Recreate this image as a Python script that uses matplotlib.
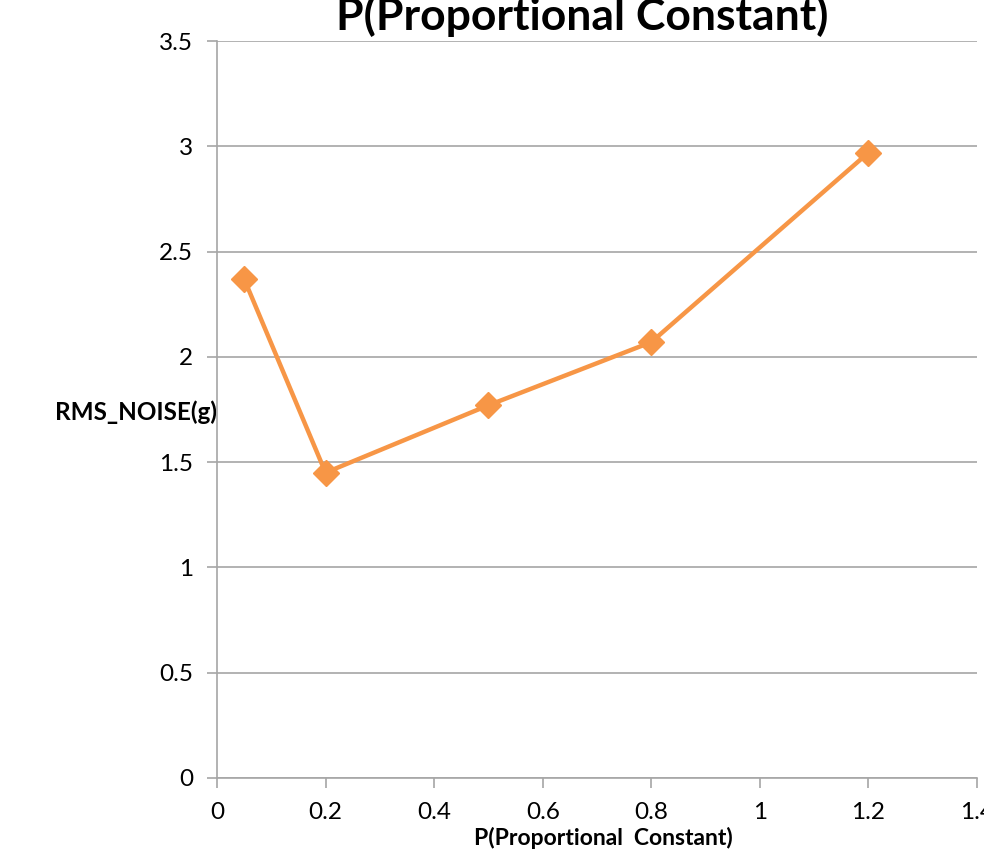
import matplotlib
matplotlib.use("Agg")
import matplotlib.pyplot as plt

# data
p_const = [0.05, 0.2, 0.5, 0.8, 1.2]
rms_noise = [2.37, 1.45, 1.77, 2.07, 2.97]

x_ticks = [0, 0.2, 0.4, 0.6, 0.8, 1, 1.2, 1.4]
x_labels = ["0", "0.2", "0.4", "0.6", "0.8", "1", "1.2", "1.4"]
y_ticks = [0, 0.5, 1, 1.5, 2, 2.5, 3, 3.5]
y_labels = ["0", "0.5", "1", "1.5", "2", "2.5", "3", "3.5"]

plt.rcParams["font.family"] = ["Lato", "DejaVu Sans"]

fig = plt.figure(figsize=(9.84, 8.51), dpi=100)
ax = fig.add_axes([0.2205, 0.0858, 0.7724, 0.866])

grid_col = "#A6A6A6"
line_col = "#F79646"

ax.plot(p_const, rms_noise, color=line_col, lw=3.2, marker="D",
        markersize=13, markeredgecolor=line_col, markerfacecolor=line_col,
        zorder=3, clip_on=False)

ax.set_xlim(0, 1.4)
ax.set_ylim(0, 3.5)
ax.set_xticks(x_ticks)
ax.set_xticklabels(x_labels)
ax.set_yticks(y_ticks)
ax.set_yticklabels(y_labels)

ax.yaxis.grid(True, color=grid_col, lw=1.2)
ax.set_axisbelow(True)
for s in ["top", "right"]:
    ax.spines[s].set_visible(False)
for s in ["left", "bottom"]:
    ax.spines[s].set_color(grid_col)
    ax.spines[s].set_linewidth(1.2)

ax.tick_params(axis="both", colors=grid_col, labelcolor="black",
               labelsize=17.5, length=7, width=1.2)
ax.tick_params(axis="x", pad=10)
ax.tick_params(axis="y", pad=10)

ax.set_xlabel("P(Proportional  Constant)", fontsize=16.5, fontweight="bold",
              va="center")
ax.xaxis.set_label_coords(0.509, -0.0814)
ax.set_ylabel("RMS_NOISE(g)", fontsize=17.5, fontweight="bold", rotation=0,
              ha="right", va="center")
ax.yaxis.set_label_coords(0.0, 0.496)

fig.text(0.592, 1 - 30 / 851, "P(Proportional Constant)", fontsize=32,
         fontweight="bold", ha="center", va="baseline")

fig.savefig("out.png", dpi=100)
